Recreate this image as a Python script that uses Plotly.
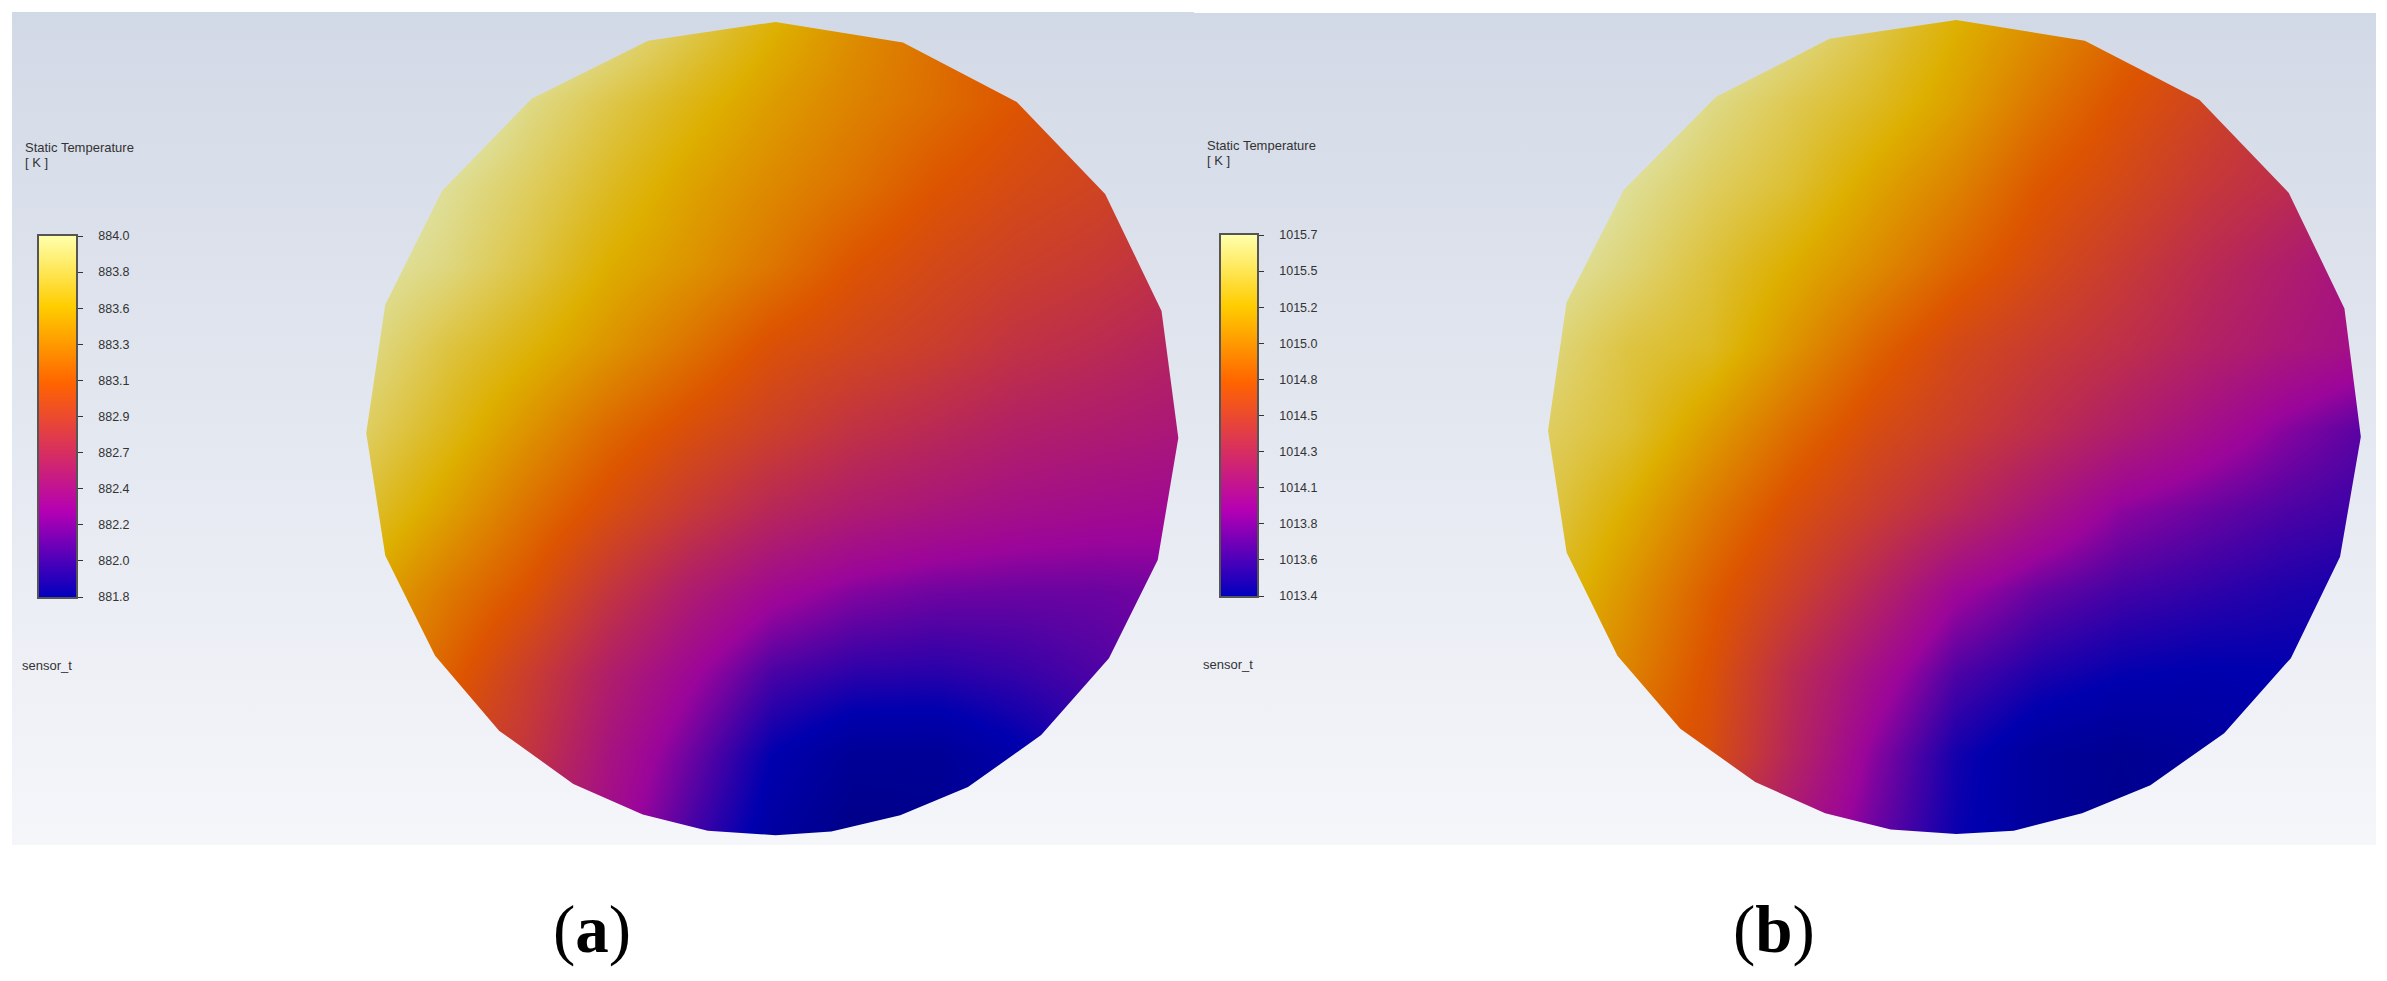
import plotly.graph_objects as go

W, H = 2387, 981

# ---------- grid of sample positions on each disc (picture units)
grid_x = [30, 180, 330, 480, 630, 780, 930, 1080, 1230, 1380, 1530]
grid_y = [35, 165, 295, 425, 555, 685, 815, 945, 1075, 1205, 1335]

# ---------- disc outlines
outline_a_x = [785, 1020, 1230, 1393, 1497, 1528, 1490, 1400, 1275, 1140, 1015, 888, 785, 660, 540, 412, 275, 157, 65, 30, 65, 170, 335, 550]
outline_a_y = [35, 68, 163, 310, 497, 700, 895, 1052, 1175, 1258, 1303, 1329, 1335, 1328, 1302, 1253, 1168, 1048, 888, 692, 487, 305, 158, 65]
outline_b_x = [780, 1015, 1225, 1388, 1490, 1520, 1482, 1392, 1270, 1135, 1010, 885, 780, 660, 540, 412, 275, 160, 67, 33, 67, 172, 340, 548]
outline_b_y = [32, 65, 160, 308, 493, 698, 890, 1052, 1172, 1255, 1300, 1328, 1333, 1326, 1300, 1250, 1165, 1048, 883, 688, 483, 303, 155, 62]

# ---------- temperature, as position within the legend range (0 = min, 1 = max)
a_row0 = [1.20, 1.15, 1.08, 1.00, .91, .815, .73, .66, .58, .52, .46]
a_row1 = [1.25, 1.08, .98, .90, .83, .76, .70, .65, .595, .54, .49]
a_row2 = [1.08, 1.00, .93, .85, .775, .715, .66, .595, .55, .52, .47]
a_row3 = [1.02, .97, .89, .80, .74, .67, .59, .54, .50, .47, .43]
a_row4 = [.98, .89, .82, .74, .66, .575, .53, .49, .44, .41, .37]
a_row5 = [.93, .84, .74, .64, .565, .50, .44, .40, .36, .34, .32]
a_row6 = [.87, .77, .66, .56, .47, .39, .34, .31, .285, .27, .26]
a_row7 = [.79, .68, .585, .45, .34, .26, .215, .195, .19, .19, .20]
a_row8 = [.75, .62, .49, .35, .25, .155, .125, .12, .135, .16, .19]
a_row9 = [.62, .55, .45, .30, .19, .08, .03, .03, .07, .12, .15]
a_row10 = [.50, .45, .38, .27, .15, .05, .00, .01, .06, .10, .13]

b_row0 = [1.20, 1.15, 1.07, .99, .90, .81, .73, .645, .56, .49, .42]
b_row1 = [1.22, 1.07, .98, .91, .85, .77, .67, .585, .52, .45, .39]
b_row2 = [1.08, 1.00, .93, .87, .78, .70, .60, .54, .47, .42, .34]
b_row3 = [1.02, .96, .88, .80, .72, .63, .55, .48, .41, .35, .29]
b_row4 = [.97, .89, .85, .74, .63, .54, .48, .43, .37, .32, .28]
b_row5 = [.93, .87, .76, .65, .555, .49, .42, .35, .285, .22, .17]
b_row6 = [.90, .80, .68, .57, .485, .40, .31, .225, .19, .16, .14]
b_row7 = [.86, .74, .615, .50, .38, .25, .185, .15, .13, .11, .10]
b_row8 = [.80, .70, .58, .41, .28, .16, .11, .085, .075, .08, .09]
b_row9 = [.72, .64, .56, .38, .22, .10, .04, .02, .04, .07, .09]
b_row10 = [.60, .55, .45, .31, .19, .09, .04, .01, .04, .07, .09]

# ---------- legends
ticks_a = [884.0, 883.78, 883.56, 883.34, 883.12, 882.9, 882.68, 882.46, 882.24, 882.02, 881.8]
labels_a = ["884.0", "883.8", "883.6", "883.3", "883.1", "882.9", "882.7", "882.4", "882.2", "882.0", "881.8"]
ticks_b = [1015.7, 1015.47, 1015.24, 1015.01, 1014.78, 1014.55, 1014.32, 1014.09, 1013.86, 1013.63, 1013.4]
labels_b = ["1015.7", "1015.5", "1015.2", "1015.0", "1014.8", "1014.5", "1014.3", "1014.1", "1013.8", "1013.6", "1013.4"]
legend_title = "Static Temperature"
legend_unit = "[ K ]"
location = "sensor_t"

legend_scale = [[0, "rgb(0,0,190)"], [.238, "rgb(180,0,180)"], [.593, "rgb(255,100,0)"],
                [.805, "rgb(255,205,0)"], [1, "rgb(255,255,170)"]]
disc_scale = [[0, "rgb(0,0,135)"], [.08, "rgb(0,0,175)"], [.24, "rgb(155,5,155)"], [.595, "rgb(221,85,0)"],
              [.805, "rgb(221,175,0)"], [1, "rgb(222,222,150)"]]
panel_gradient = [[0, "rgb(210,217,230)"], [1, "rgb(245,246,250)"]]

rows_a = [a_row0, a_row1, a_row2, a_row3, a_row4, a_row5, a_row6, a_row7, a_row8, a_row9, a_row10]
rows_b = [b_row0, b_row1, b_row2, b_row3, b_row4, b_row5, b_row6, b_row7, b_row8, b_row9, b_row10]


def px(x):
    return x / W


def py(y):
    return 1 - y / H


fig = go.Figure()


def add_panel(idx, rows, ticks, labels, ox, oy, box, xrange_, yrange_, bar):
    """idx: first axis index; box: panel in page pixels; bar: legend bar in page pixels."""
    xa, ya = f"x{idx if idx > 1 else ''}", f"y{idx if idx > 1 else ''}"
    lo, hi = min(ticks), max(ticks)
    z = [[lo + v * (hi - lo) for v in r] for r in rows]
    fig.add_trace(go.Heatmap(x=grid_x, y=grid_y, z=z, zmin=lo, zmax=hi, zsmooth="best",
                             colorscale=disc_scale, showscale=False, hoverinfo="skip",
                             xaxis=xa, yaxis=ya))
    # panel background with the disc cut out of it
    x0, x1 = xrange_
    y0, y1 = yrange_
    start = oy.index(max(oy))
    mx = list(ox[start:]) + list(ox[:start]) + [ox[start]]
    my = list(oy[start:]) + list(oy[:start]) + [oy[start]]
    fx = [x0, x1, x1, x0, x0, mx[0]] + mx + [x0]
    fy = [y0, y0, y1, y1, my[0], my[0]] + my + [my[0]]
    fig.add_trace(go.Scatter(x=fx, y=fy, mode="lines", line=dict(width=0), fill="toself",
                             fillgradient=dict(type="vertical", colorscale=panel_gradient, start=y1, stop=y0),
                             hoverinfo="skip", showlegend=False, xaxis=xa, yaxis=ya))
    fig.update_layout({
        f"xaxis{idx}": dict(domain=[px(box[0]), px(box[1])], range=list(xrange_), visible=False, fixedrange=True,
                            anchor=ya),
        f"yaxis{idx}": dict(domain=[py(box[3]), py(box[2])], range=[y0, y1], visible=False, fixedrange=True,
                            anchor=xa),
    })
    # legend bar
    li = idx + 1
    xl, yl = f"x{li}", f"y{li}"
    fig.add_trace(go.Heatmap(x=[0, 1], y=ticks, z=[[t, t] for t in ticks], zmin=lo, zmax=hi, zsmooth="best",
                             colorscale=legend_scale, showscale=False, hoverinfo="skip", xaxis=xl, yaxis=yl))
    fig.update_layout({
        f"xaxis{li}": dict(domain=[px(bar[0]), px(bar[1])], range=[0, 1], showticklabels=False, ticks="",
                           showgrid=False, zeroline=False, showline=True, linecolor="#555", linewidth=1.5,
                           mirror=True, anchor=yl, fixedrange=True),
        f"yaxis{li}": dict(domain=[py(bar[3]), py(bar[2])], range=[lo, hi], side="right", tickmode="array",
                           tickvals=ticks, ticktext=labels, ticks="outside", ticklen=5, tickwidth=1,
                           tickcolor="#333", tickfont=dict(family="Liberation Sans", size=12.5, color="#333"),
                           ticklabelstandoff=13, showgrid=False, zeroline=False, showline=True,
                           linecolor="#555", linewidth=1.5, mirror=True, anchor=xl, fixedrange=True),
    })


# page mapping: panel a  x = 350 + .5421 u, panel b  x = 1530 + .5466 u, both y = .6256 v
add_panel(1, rows_a, ticks_a, labels_a, outline_a_x, outline_a_y, (12, 1194, 12, 845),
          ((12 - 350) / .5421, (1194 - 350) / .5421), (845 / .6256, 12 / .6256), (39, 76, 236, 597))
add_panel(3, rows_b, ticks_b, labels_b, outline_b_x, outline_b_y, (1194, 2376, 13, 845),
          ((1194 - 1530) / .5466, (2376 - 1530) / .5466), (845 / .6256, 13 / .6256), (1221, 1257, 235, 596))


def label(text, x, y, size=13, family="Liberation Sans", color="#333", xanchor="left"):
    return dict(text=text, x=px(x), y=py(y), xref="paper", yref="paper", showarrow=False,
                xanchor=xanchor, yanchor="middle", font=dict(family=family, size=size, color=color))


fig.update_layout(
    width=W, height=H, autosize=False, margin=dict(l=0, r=0, t=0, b=0, pad=0, autoexpand=False),
    paper_bgcolor="white", plot_bgcolor="rgba(0,0,0,0)", showlegend=False,
    annotations=[
        label(legend_title, 23, 147), label(legend_unit, 23, 162), label(location, 20, 665),
        label(legend_title, 1205, 145), label(legend_unit, 1205, 160), label(location, 1201, 664),
        label("(<b>a</b>)", 592, 929, 67, "Liberation Serif", "black", "center"),
        label("(<b>b</b>)", 1774, 929, 67, "Liberation Serif", "black", "center"),
    ],
)

fig.write_html("out.html", config=dict(displayModeBar=False),
               post_script="document.body.style.margin='0';document.documentElement.style.overflow='hidden';")
